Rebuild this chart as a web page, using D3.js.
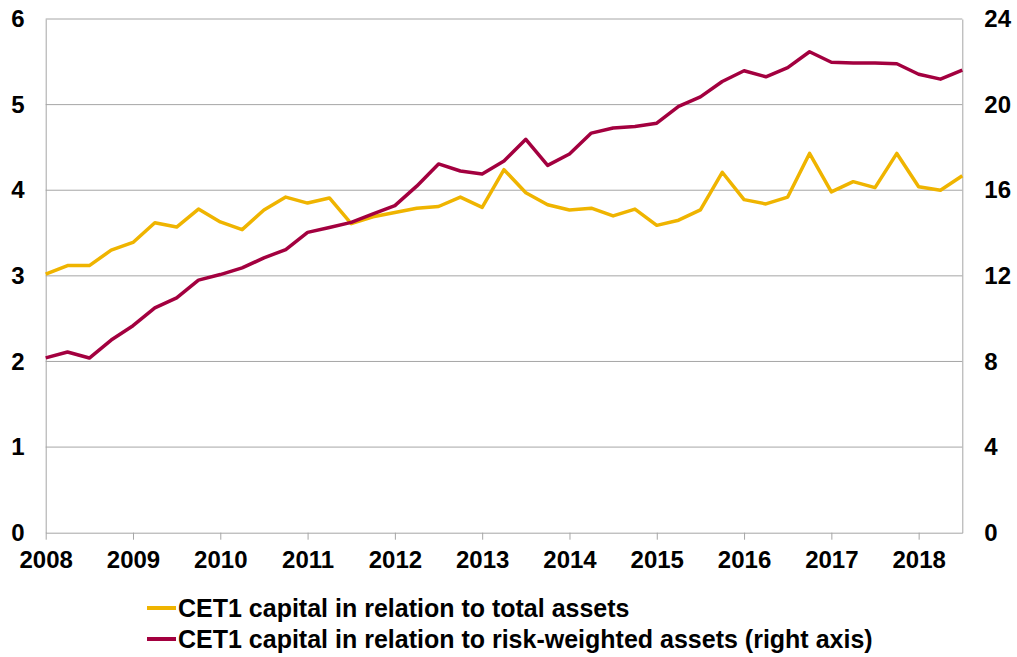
<!DOCTYPE html>
<html>
<head>
<meta charset="utf-8">
<script src="https://cdn.jsdelivr.net/npm/d3@7"></script>
<style>
  body { margin: 0; background: #fff; }
  text { font-family: Arial, "Liberation Sans", sans-serif; font-weight: bold; fill: #000; }
</style>
</head>
<body>
<div id="chart"></div>
<script>
// quarterly observations, 2008 Q1 - 2018 Q3
var quarters = [
  "2008Q1","2008Q2","2008Q3","2008Q4","2009Q1","2009Q2","2009Q3","2009Q4",
  "2010Q1","2010Q2","2010Q3","2010Q4","2011Q1","2011Q2","2011Q3","2011Q4",
  "2012Q1","2012Q2","2012Q3","2012Q4","2013Q1","2013Q2","2013Q3","2013Q4",
  "2014Q1","2014Q2","2014Q3","2014Q4","2015Q1","2015Q2","2015Q3","2015Q4",
  "2016Q1","2016Q2","2016Q3","2016Q4","2017Q1","2017Q2","2017Q3","2017Q4",
  "2018Q1","2018Q2","2018Q3"
];

// CET1 capital / total assets (left axis, per cent)
var totalAssets = [
  3.02, 3.12, 3.12, 3.30, 3.39, 3.62, 3.57, 3.78, 3.63, 3.54,
  3.77, 3.92, 3.85, 3.91, 3.61, 3.69, 3.74, 3.79, 3.81, 3.92,
  3.80, 4.24, 3.97, 3.83, 3.77, 3.79, 3.70, 3.78, 3.59, 3.65,
  3.77, 4.21, 3.89, 3.84, 3.92, 4.43, 3.98, 4.10, 4.03, 4.43,
  4.04, 4.00, 4.17
];

// CET1 capital / risk-weighted assets (right axis, per cent)
var riskWeighted = [
  8.17, 8.44, 8.16, 9.00, 9.67, 10.50, 10.97, 11.80, 12.06, 12.37,
  12.84, 13.23, 14.03, 14.26, 14.50, 14.90, 15.28, 16.19, 17.23, 16.90,
  16.76, 17.37, 18.38, 17.16, 17.69, 18.67, 18.91, 18.98, 19.13, 19.92,
  20.36, 21.08, 21.58, 21.30, 21.73, 22.47, 21.98, 21.94, 21.94, 21.91,
  21.42, 21.19, 21.61
];

var leftTicks = [0, 1, 2, 3, 4, 5, 6];
var rightTicks = [0, 4, 8, 12, 16, 20, 24];
var yearTicks = [2008, 2009, 2010, 2011, 2012, 2013, 2014, 2015, 2016, 2017, 2018];

var seriesNames = [
  "CET1 capital in relation to total assets",
  "CET1 capital in relation to risk-weighted assets (right axis)"
];
var colors = ["#EFB400", "#A3003F"];

var width = 1017, height = 657;
var margin = { left: 45.7, right: 1017 - 962.3, top: 19, bottom: 657 - 532.7 };

var svg = d3.select("#chart").append("svg")
  .attr("width", width)
  .attr("height", height);

function quarterToYear(q) {
  return +q.slice(0, 4) + (+q.slice(5) - 1) / 4;
}

var x = d3.scaleLinear()
  .domain([2008, 2018.5])
  .range([margin.left, width - margin.right]);

var yLeft = d3.scaleLinear()
  .domain([0, 6])
  .range([height - margin.bottom, margin.top]);

var yRight = d3.scaleLinear()
  .domain([0, 24])
  .range([height - margin.bottom, margin.top]);

var intFormat = d3.format("d");

// gridlines
svg.append("g")
  .selectAll("line")
  .data(leftTicks.slice(1))
  .enter().append("line")
    .attr("x1", x.range()[0])
    .attr("x2", x.range()[1])
    .attr("y1", function(d) { return yLeft(d); })
    .attr("y2", function(d) { return yLeft(d); })
    .attr("stroke", "#a6a6a6")
    .attr("stroke-width", 1);

// left axis
var leftAxis = svg.append("g")
  .attr("transform", "translate(" + margin.left + ",0)")
  .call(d3.axisLeft(yLeft).tickValues(leftTicks).tickFormat(intFormat)
    .tickSize(0).tickPadding(21));
leftAxis.select(".domain").attr("stroke", "#a6a6a6");
leftAxis.selectAll("text").attr("font-size", 24).attr("font-family", null);

// right axis
var rightAxis = svg.append("g")
  .attr("transform", "translate(" + (width - margin.right) + ",0)")
  .call(d3.axisRight(yRight).tickValues(rightTicks).tickFormat(intFormat)
    .tickSize(0).tickPadding(22));
rightAxis.select(".domain").attr("stroke", "#a6a6a6");
rightAxis.selectAll("text").attr("font-size", 24).attr("font-family", null);

// bottom axis
var bottomAxis = svg.append("g")
  .attr("transform", "translate(0," + (height - margin.bottom) + ")")
  .call(d3.axisBottom(x).tickValues(yearTicks).tickFormat(intFormat)
    .tickSize(7).tickSizeOuter(0).tickPadding(11));
bottomAxis.select(".domain").attr("stroke", "#a6a6a6");
bottomAxis.selectAll(".tick line").attr("stroke", "#a6a6a6");
bottomAxis.selectAll("text").attr("font-size", 24).attr("font-family", null);

// lines
var lineLeft = d3.line()
  .x(function(d, i) { return x(quarterToYear(quarters[i])); })
  .y(function(d) { return yLeft(d); });

var lineRight = d3.line()
  .x(function(d, i) { return x(quarterToYear(quarters[i])); })
  .y(function(d) { return yRight(d); });

svg.append("path")
  .datum(totalAssets)
  .attr("d", lineLeft)
  .attr("fill", "none")
  .attr("stroke", colors[0])
  .attr("stroke-width", 3.5)
  .attr("stroke-linejoin", "round");

svg.append("path")
  .datum(riskWeighted)
  .attr("d", lineRight)
  .attr("fill", "none")
  .attr("stroke", colors[1])
  .attr("stroke-width", 3.5)
  .attr("stroke-linejoin", "round");

// legend
var legend = svg.append("g")
  .selectAll("g")
  .data(seriesNames)
  .enter().append("g")
    .attr("transform", function(d, i) { return "translate(147," + (608 + i * 31) + ")"; });

legend.append("line")
  .attr("x1", 0)
  .attr("x2", 29)
  .attr("stroke", function(d, i) { return colors[i]; })
  .attr("stroke-width", 4);

legend.append("text")
  .attr("x", 31)
  .attr("y", 9)
  .attr("font-size", 25)
  .text(function(d) { return d; });
</script>
</body>
</html>
